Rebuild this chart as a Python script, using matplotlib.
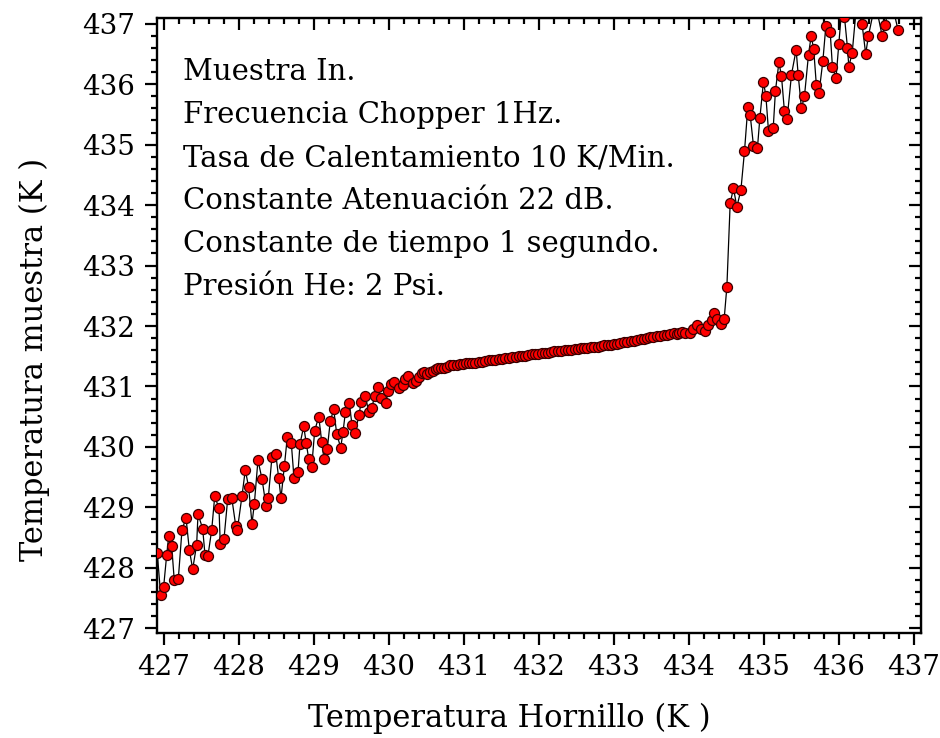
import matplotlib
matplotlib.use("Agg")
import matplotlib.pyplot as plt
from matplotlib.ticker import MultipleLocator

plt.rcParams['font.family'] = ['DejaVu Serif']

# furnace temperature (K) and sample temperature (K), sweep at 10 K/min
hornillo_k = [
    426.91, 426.956, 426.996, 427.036, 427.063, 427.103, 427.137, 427.191, 427.240, 427.294,
    427.338, 427.383, 427.436, 427.454, 427.516, 427.547, 427.587, 427.637, 427.677, 427.734,
    427.751, 427.801, 427.850, 427.904, 427.957, 427.978, 428.041, 428.085, 428.130, 428.174,
    428.205, 428.254, 428.308, 428.361, 428.392, 428.441, 428.491, 428.531, 428.561, 428.606,
    428.646, 428.699, 428.735, 428.788, 428.815, 428.864, 428.899, 428.931, 428.971, 429.011,
    429.065, 429.105, 429.135, 429.179, 429.219, 429.265, 429.305, 429.358, 429.389, 429.420,
    429.473, 429.509, 429.553, 429.598, 429.633, 429.687, 429.732, 429.772, 429.812, 429.856,
    429.892, 429.959, 429.993, 430.026, 430.070, 430.140, 430.186, 430.220, 430.260, 430.319,
    430.363, 430.407, 430.439, 430.474, 430.514, 430.550, 430.586, 430.626, 430.661, 430.697,
    430.737, 430.777, 430.821, 430.861, 430.906, 430.946, 430.986, 431.030, 431.070, 431.111,
    431.155, 431.200, 431.244, 431.288, 431.333, 431.377, 431.422, 431.467,
    431.51, 431.55, 431.60, 431.64, 431.69, 431.73, 431.77, 431.82, 431.86, 431.91,
    431.95, 431.99, 432.04, 432.08, 432.13, 432.17, 432.21, 432.26, 432.30, 432.35,
    432.39, 432.43, 432.48, 432.52, 432.57, 432.61, 432.65, 432.70, 432.74, 432.79,
    432.83, 432.87, 432.92, 432.96, 433.01, 433.05, 433.09, 433.14, 433.18, 433.23,
    433.27, 433.31, 433.36, 433.40, 433.45, 433.49, 433.53, 433.58, 433.62, 433.67,
    433.71, 433.75, 433.80, 433.84, 433.87,
    433.909, 433.953, 434.020, 434.064, 434.117, 434.163, 434.220, 434.264, 434.309, 434.344,
    434.384, 434.430, 434.474, 434.510, 434.554, 434.598, 434.643, 434.697, 434.745, 434.790,
    434.821, 434.865, 434.918, 434.950, 434.998, 435.030, 435.065, 435.128, 435.158, 435.204,
    435.238, 435.278, 435.314, 435.372, 435.434, 435.461, 435.505, 435.545, 435.599, 435.635,
    435.668, 435.704, 435.739, 435.791, 435.831, 435.888, 435.918, 435.966, 436.004, 436.042,
    436.079, 436.119, 436.137, 436.182, 436.239, 436.313, 436.362, 436.397, 436.490, 436.582,
    436.618, 436.700, 436.793,
]
muestra_k = [
    428.25, 427.55, 427.69, 428.21, 428.52, 428.36, 427.80, 427.81, 428.62, 428.83,
    428.30, 427.98, 428.38, 428.89, 428.65, 428.22, 428.20, 428.63, 429.18, 428.99,
    428.40, 428.48, 429.14, 429.16, 428.70, 428.62, 429.19, 429.62, 429.33, 428.73,
    429.05, 429.78, 429.47, 429.03, 429.16, 429.84, 429.89, 429.48, 429.15, 429.68,
    430.17, 430.06, 429.48, 429.58, 430.05, 430.34, 430.06, 429.80, 429.67, 430.27,
    430.50, 430.08, 429.80, 429.97, 430.43, 430.62, 430.21, 429.99, 430.25, 430.57,
    430.72, 430.36, 430.23, 430.52, 430.74, 430.85, 430.57, 430.65, 430.84, 430.99,
    430.81, 430.72, 430.93, 431.04, 431.07, 430.97, 431.03, 431.12, 431.17, 431.06,
    431.09, 431.16, 431.23, 431.24, 431.21, 431.24, 431.26, 431.29, 431.30, 431.31,
    431.31, 431.33, 431.35, 431.36, 431.36, 431.37, 431.37, 431.38, 431.38, 431.39,
    431.39, 431.40, 431.41, 431.42, 431.43, 431.43, 431.44, 431.45,
    431.46, 431.47, 431.47, 431.48, 431.49, 431.50, 431.50, 431.51, 431.52, 431.53,
    431.54, 431.54, 431.55, 431.56, 431.56, 431.57, 431.58, 431.58, 431.59, 431.60,
    431.60, 431.61, 431.62, 431.62, 431.63, 431.64, 431.64, 431.65, 431.66, 431.66,
    431.67, 431.68, 431.69, 431.69, 431.70, 431.71, 431.72, 431.73, 431.74, 431.75,
    431.76, 431.77, 431.78, 431.79, 431.80, 431.81, 431.82, 431.83, 431.84, 431.85,
    431.85, 431.86, 431.88, 431.87, 431.89,
    431.90, 431.88, 431.88, 431.95, 432.02, 431.95, 431.92, 432.01, 432.10, 432.21,
    432.11, 432.03, 432.12, 432.65, 434.03, 434.28, 433.97, 434.25, 434.89, 435.63,
    435.49, 434.98, 434.95, 435.44, 436.04, 435.81, 435.23, 435.27, 435.89, 436.36,
    436.14, 435.55, 435.43, 436.16, 436.57, 436.16, 435.60, 435.80, 436.49, 436.80,
    436.58, 435.98, 435.85, 436.39, 436.97, 436.87, 436.29, 436.10, 436.67, 437.25,
    437.11, 436.60, 436.29, 436.52, 437.30, 437.00, 436.50, 436.79, 437.35, 436.80,
    436.98, 437.40, 436.90,
]

condiciones = [
    "Muestra In.",
    "Frecuencia Chopper 1Hz.",
    "Tasa de Calentamiento 10 K/Min.",
    "Constante Atenuación 22 dB.",
    "Constante de tiempo 1 segundo.",
    "Presión He: 2 Psi.",
]

fig = plt.figure(figsize=(9.4, 7.38), dpi=100)
ax = fig.add_axes([0.1667, 0.1427, 0.8131, 0.8325])

ax.plot(hornillo_k, muestra_k, color='black', lw=0.9, zorder=2)
ax.plot(hornillo_k, muestra_k, ls='none', marker='o', ms=7.2,
        mfc='#ff0000', mec='#3a0000', mew=0.9, zorder=3)

ax.set_xlim(426.903, 437.10)
ax.set_ylim(426.927, 437.09)

for s in ax.spines.values():
    s.set_linewidth(1.7)

ax.xaxis.set_major_locator(MultipleLocator(1))
ax.xaxis.set_minor_locator(MultipleLocator(0.2))
ax.yaxis.set_major_locator(MultipleLocator(1))
ax.yaxis.set_minor_locator(MultipleLocator(0.2))
ax.tick_params(which='major', direction='out', length=8.5, width=1.6,
               labelsize=20, pad=7)
ax.tick_params(which='minor', direction='out', length=4.2, width=1.6)

# inward ticks on the top and right frame
top = ax.secondary_xaxis('top')
right = ax.secondary_yaxis('right')
top.xaxis.set_major_locator(MultipleLocator(1))
top.xaxis.set_minor_locator(MultipleLocator(0.2))
right.yaxis.set_major_locator(MultipleLocator(1))
right.yaxis.set_minor_locator(MultipleLocator(0.2))
for sec in (top, right):
    sec.tick_params(which='major', direction='in', length=8.5, width=1.6,
                    labelleft=False, labelright=False, labeltop=False, labelbottom=False)
    sec.tick_params(which='minor', direction='in', length=4.2, width=1.6)

ax.set_xlabel("Temperatura Hornillo (K )", fontsize=22)
ax.set_ylabel("Temperatura muestra (K )", fontsize=22)
ax.xaxis.set_label_coords(0.462, -0.114)
ax.yaxis.set_label_coords(-0.140, 0.444)

for i, linea in enumerate(condiciones):
    ax.text(0.034, 0.9126 - 0.0700 * i, linea, transform=ax.transAxes,
            fontsize=21, va='center', ha='left')

fig.savefig("out.png", dpi=100)
